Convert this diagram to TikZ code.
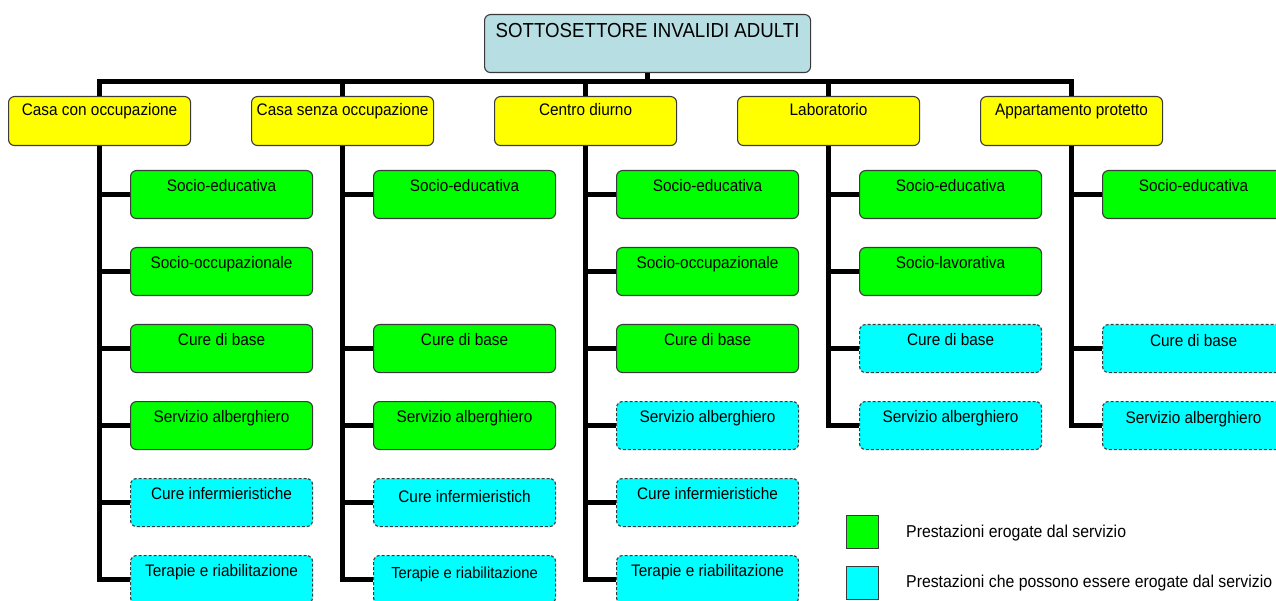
\documentclass[tikz,border=0pt]{standalone}
\usepackage{fontspec}
\setmainfont[FakeStretch=0.92]{Liberation Sans}
\definecolor{rootc}{HTML}{B7DEE3}
\definecolor{bd}{HTML}{3A3A3A}
\definecolor{yel}{HTML}{FFFF00}
\definecolor{grn}{HTML}{00FF00}
\definecolor{cyn}{HTML}{00FFFF}
\tikzset{
  base/.style={draw=bd, line width=1.1pt, rounded corners=6pt, anchor=north west, inner sep=0pt, align=center},
  rootbox/.style={base, fill=rootc, minimum width=326pt, minimum height=58pt, text height=23.4pt, text depth=34.6pt, font=\fontsize{20.3}{22}\selectfont},
  catbox/.style={base, fill=yel, minimum width=182pt, minimum height=49pt, text height=19pt, text depth=30pt, font=\fontsize{16.7}{18}\selectfont},
  svcbox/.style={base, minimum width=182pt, minimum height=48pt, text height=21pt, text depth=27pt, font=\fontsize{16.7}{18}\selectfont},
  given/.style={svcbox, fill=grn},
  maybe/.style={svcbox, fill=cyn, dash pattern=on 3pt off 2pt},
  conn/.style={line width=5pt, draw=black},
  legsq/.style={draw=bd, line width=1.1pt, anchor=north west, minimum width=32pt, minimum height=33pt, inner sep=0pt},
  legtxt/.style={anchor=west, inner sep=0pt, font=\fontsize{17.2}{19}\selectfont}
}
\begin{document}
\begin{tikzpicture}[x=1pt,y=-1pt]
\useasboundingbox (0,0) rectangle (1276,601);
\begin{scope}
\clip (0,0) rectangle (1276,601);
\coordinate (bus) at (0,82);
\node[rootbox] (root) at (484,14) {SOTTOSETTORE INVALIDI ADULTI};
\node[catbox] (c1) at (8,96) {Casa con occupazione};
\node[catbox] (c2) at (251,96) {Casa senza occupazione};
\node[catbox] (c3) at (494,96) {Centro diurno};
\node[catbox] (c4) at (737,96) {Laboratorio};
\node[catbox] (c5) at (980,96) {Appartamento protetto};
% column 1
\node[given] (a1) at (130,170) {Socio-educativa};
\node[given] (a2) at (130,247) {Socio-occupazionale};
\node[given] (a3) at (130,324) {Cure di base};
\node[given] (a4) at (130,401) {Servizio alberghiero};
\node[maybe] (a5) at (130,478) {Cure infermieristiche};
\node[maybe] (a6) at (130,555) {Terapie e riabilitazione};
% column 2
\node[given] (b1) at (373,170) {Socio-educativa};
\node[given] (b3) at (373,324) {Cure di base};
\node[given] (b4) at (373,401) {Servizio alberghiero};
\node[maybe, text height=24pt, text depth=24pt] (b5) at (373,478) {Cure infermieristich};
\node[maybe, font=\fontsize{16}{17}\selectfont, text height=23pt, text depth=25pt] (b6) at (373,555) {Terapie e riabilitazione};
% column 3
\node[given] (d1) at (616,170) {Socio-educativa};
\node[given] (d2) at (616,247) {Socio-occupazionale};
\node[given] (d3) at (616,324) {Cure di base};
\node[maybe] (d4) at (616,401) {Servizio alberghiero};
\node[maybe] (d5) at (616,478) {Cure infermieristiche};
\node[maybe] (d6) at (616,555) {Terapie e riabilitazione};
% column 4
\node[given] (e1) at (859,170) {Socio-educativa};
\node[given] (e2) at (859,247) {Socio-lavorativa};
\node[maybe] (e3) at (859,324) {Cure di base};
\node[maybe] (e4) at (859,401) {Servizio alberghiero};
% column 5
\node[given] (f1) at (1102,170) {Socio-educativa};
\node[maybe, text height=22pt, text depth=26pt] (f3) at (1102,324) {Cure di base};
\node[maybe, text height=22pt, text depth=26pt] (f4) at (1102,401) {Servizio alberghiero};
% legend
\node[legsq, fill=grn] (lg1) at (846,515) {};
\node[legsq, fill=cyn] (lg2) at (846,566) {};
\node[legtxt] (lt1) at (906,533) {Prestazioni erogate dal servizio};
\node[legtxt] (lt2) at (906,583) {Prestazioni che possono essere erogate dal servizio};
% connectors
\draw[conn] (root.south) -- (root.south |- bus);
\draw[conn] (c1.north) -- (c1.north |- bus) -- (c5.north |- bus) -- (c5.north);
\foreach \c in {c2,c3,c4} \draw[conn] (\c.north) -- (\c.north |- bus);
\foreach \k in {a1,a2,a3,a4,a5,a6} \draw[conn] (c1.south) |- (\k.west);
\foreach \k in {b1,b3,b4,b5,b6} \draw[conn] (c2.south) |- (\k.west);
\foreach \k in {d1,d2,d3,d4,d5,d6} \draw[conn] (c3.south) |- (\k.west);
\foreach \k in {e1,e2,e3,e4} \draw[conn] (c4.south) |- (\k.west);
\foreach \k in {f1,f3,f4} \draw[conn] (c5.south) |- (\k.west);
\end{scope}
\end{tikzpicture}
\end{document}
